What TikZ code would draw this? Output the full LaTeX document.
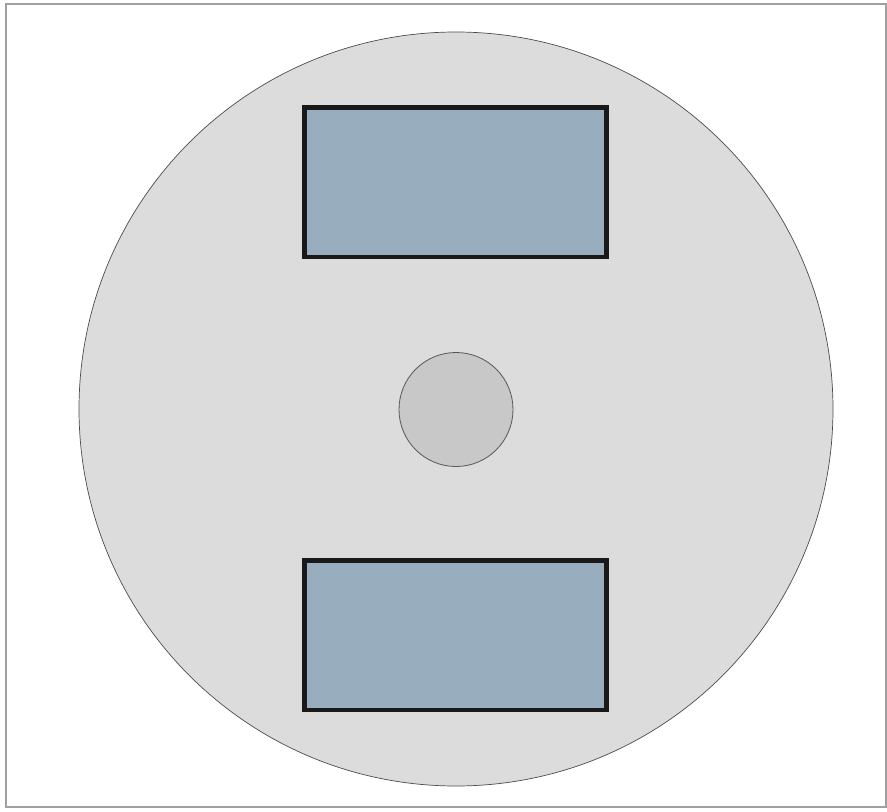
\documentclass[tikz,border=0pt]{standalone}
\usepackage{tikz}
\usepackage{xcolor}
\definecolor{discgray}{HTML}{DCDCDC}
\definecolor{hubgray}{HTML}{C8C8C8}
\definecolor{padblue}{HTML}{98AEBF}
\definecolor{framegray}{HTML}{A0A0A0}

\begin{document}
\begin{tikzpicture}[x=0.03cm,y=-0.03cm]
\useasboundingbox (0,0) rectangle (887,812);
\draw[framegray, line width=1.6pt] (6,4) rectangle (886,807);
\begin{scope}
\draw[fill=discgray, draw=black!70, line width=0.6pt] (456,409) circle (377);
\draw[fill=hubgray, draw=black!65, line width=0.7pt] (456,409.5) circle (57);
\draw[fill=padblue, draw=black!90, line width=4.2pt] (304.5,107.5) rectangle (606.5,257);
\draw[fill=padblue, draw=black!90, line width=4.2pt] (304.5,560.5) rectangle (606.5,710);
\end{scope}
\end{tikzpicture}
\end{document}
